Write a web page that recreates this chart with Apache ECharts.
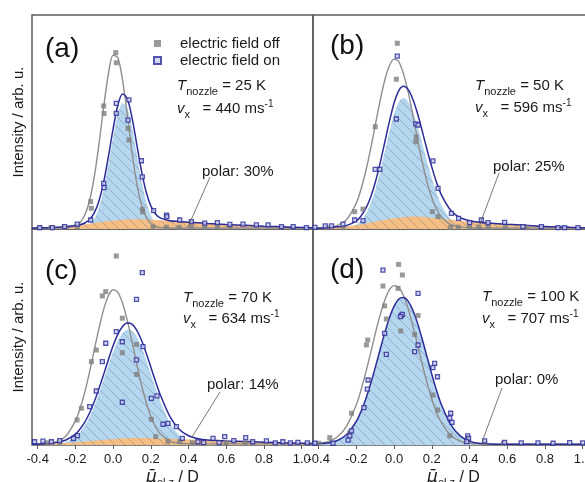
<!DOCTYPE html>
<html>
<head>
<meta charset="utf-8">
<script src="https://cdn.jsdelivr.net/npm/echarts@6/dist/echarts.min.js"></script>
<style>
  html, body { margin: 0; padding: 0; background: #fff; overflow: hidden; }
  #chart { width: 585px; height: 482px; }
</style>
</head>
<body>
<div id="chart"></div>
<script>
// Dipole-moment distributions <mu_el,z>, field off / field on, four nozzle temperatures.
// Intensities are in arbitrary units (fraction of the panel height).

const panelLabels = ['(a)', '(b)', '(c)', '(d)'];
const nozzleTemps = [25, 50, 70, 100];      // K
const beamVelocities = [440, 596, 634, 707]; // m/s
const polarShares = [30, 25, 14, 0];         // %
const muTicks = [-0.4, -0.2, 0.0, 0.2, 0.4, 0.6, 0.8, 1.0];

// abscissa of the fitted curves
const muGrid = [-0.43, -0.4, -0.35, -0.3, -0.25, -0.2, -0.175, -0.15, -0.125, -0.1, -0.075, -0.05, -0.025, 0,
  0.025, 0.05, 0.075, 0.1, 0.125, 0.15, 0.175, 0.2, 0.225, 0.25, 0.3, 0.35, 0.4, 0.45, 0.5, 0.6, 0.7, 0.8, 0.9, 1.0, 1.06];

// (a) 25 K
const offFitA = [0.005,0.005,0.005,0.005,0.006,0.014,0.03,0.065,0.132,0.242,0.395,0.57,0.724,0.812,0.801,0.697,0.535,0.361,0.216,0.115,0.055,0.025,0.012,0.007,0.005,0.005,0.005,0.005,0.005,0.005,0.005,0.005,0.005,0.005,0.005];
const onFitA = [0.004,0.005,0.006,0.008,0.011,0.016,0.020,0.028,0.044,0.075,0.131,0.219,0.338,0.468,0.578,0.631,0.610,0.522,0.398,0.274,0.174,0.108,0.070,0.052,0.039,0.035,0.032,0.029,0.026,0.021,0.017,0.013,0.010,0.007,0.006];
const nonpolarA = [0,0,0,0,0,0.001,0.002,0.007,0.020,0.047,0.100,0.185,0.301,0.429,0.537,0.588,0.566,0.477,0.353,0.229,0.130,0.065,0.028,0.011,0.001,0,0,0,0,0,0,0,0,0,0];
const polarA = [0.004,0.005,0.006,0.008,0.011,0.015,0.018,0.021,0.024,0.028,0.031,0.034,0.037,0.039,0.041,0.043,0.044,0.045,0.045,0.045,0.044,0.043,0.042,0.041,0.038,0.035,0.032,0.029,0.026,0.021,0.017,0.013,0.010,0.007,0.006];
const offPointsA = [[0.014,0.824],[0.017,0.777],[-0.05,0.575],[-0.048,0.54],[0.079,0.47],[0.084,0.416],[-0.119,0.128],[-0.115,0.097],[0.155,0.092],[0.157,0.08],[-0.19,0.011],[0.212,0.008],[0.283,0.008],[0.35,0.008],[0.415,0.01],[0.486,0.008],[0.553,0.01],[0.62,0.008],[-0.26,0.008],[-0.33,0.006],[-0.39,0.006]];
const onPointsA = [[-0.389,0.006],[-0.322,0.006],[-0.257,0.011],[-0.19,0.023],[-0.119,0.042],[-0.05,0.213],[-0.048,0.193],[0.017,0.54],[0.017,0.587],[0.084,0.603],[0.079,0.509],[0.15,0.319],[0.155,0.244],[0.215,0.086],[0.283,0.065],[0.285,0.058],[0.353,0.042],[0.415,0.034],[0.486,0.027],[0.553,0.03],[0.619,0.022],[0.689,0.023],[0.76,0.019],[0.822,0.019],[0.893,0.011],[0.955,0.011],[1.025,0.006]];

// (b) 50 K
const offFitB = [0.005,0.005,0.007,0.017,0.046,0.122,0.187,0.271,0.372,0.484,0.596,0.694,0.763,0.794,0.781,0.725,0.638,0.530,0.416,0.309,0.218,0.146,0.093,0.057,0.020,0.009,0.006,0.005,0.005,0.005,0.005,0.005,0.005,0.005,0.005];
const onFitB = [0.003,0.004,0.006,0.010,0.017,0.038,0.061,0.096,0.147,0.217,0.304,0.403,0.502,0.589,0.647,0.667,0.651,0.605,0.537,0.455,0.369,0.289,0.218,0.161,0.088,0.053,0.039,0.032,0.028,0.022,0.017,0.012,0.009,0.006,0.005];
const nonpolarB = [0,0,0,0.001,0.004,0.020,0.039,0.070,0.117,0.182,0.265,0.360,0.455,0.539,0.594,0.612,0.594,0.547,0.479,0.398,0.314,0.236,0.168,0.113,0.045,0.014,0.004,0.001,0,0,0,0,0,0,0];
const polarB = [0.003,0.004,0.006,0.009,0.013,0.018,0.022,0.026,0.030,0.035,0.039,0.043,0.047,0.050,0.053,0.055,0.057,0.058,0.058,0.057,0.055,0.053,0.050,0.048,0.043,0.039,0.035,0.031,0.028,0.022,0.017,0.012,0.009,0.006,0.005];
const offPointsB = [[0.017,0.868],[0.012,0.70],[-0.1,0.478],[-0.209,0.081],[-0.165,0.093],[0.115,0.408],[0.117,0.43],[0.203,0.081],[0.233,0.058],[-0.36,0.006],[-0.27,0.006],[0.30,0.008],[0.34,0.008],[0.40,0.008],[0.45,0.01],[0.5,0.008],[0.59,0.008],[0.7,0.006]];
const onPointsB = [[0.017,0.808],[0.012,0.514],[-0.1,0.279],[-0.076,0.279],[0.115,0.491],[0.127,0.486],[0.206,0.318],[0.233,0.19],[-0.165,0.039],[-0.209,0.042],[-0.271,0.023],[-0.332,0.015],[-0.365,0.015],[-0.42,0.008],[0.304,0.073],[0.342,0.05],[0.4,0.03],[0.463,0.042],[0.498,0.03],[0.586,0.031],[0.683,0.011],[0.781,0.011],[0.869,0.006],[0.904,0.006],[0.975,0.006]];

// (c) 70 K
const offFitC = [0.005,0.005,0.007,0.016,0.042,0.112,0.169,0.245,0.337,0.439,0.540,0.628,0.691,0.719,0.707,0.657,0.578,0.480,0.377,0.280,0.198,0.132,0.084,0.052,0.019,0.008,0.006,0.005,0.005,0.005,0.005,0.005,0.005,0.005,0.005];
const onFitC = [0.003,0.004,0.006,0.011,0.023,0.050,0.074,0.106,0.148,0.200,0.261,0.327,0.395,0.459,0.512,0.549,0.565,0.560,0.532,0.486,0.427,0.361,0.295,0.233,0.134,0.073,0.043,0.029,0.023,0.019,0.016,0.013,0.010,0.008,0.007];
const nonpolarC = [0,0,0.001,0.004,0.014,0.038,0.060,0.090,0.130,0.180,0.239,0.303,0.369,0.432,0.483,0.519,0.534,0.528,0.500,0.454,0.395,0.330,0.264,0.203,0.105,0.046,0.017,0.005,0.001,0,0,0,0,0,0];
const polarC = [0.003,0.004,0.005,0.007,0.009,0.012,0.014,0.016,0.018,0.020,0.022,0.024,0.026,0.027,0.029,0.030,0.031,0.032,0.032,0.032,0.032,0.031,0.031,0.030,0.029,0.027,0.026,0.024,0.022,0.019,0.016,0.013,0.010,0.008,0.007];
const offPointsC = [[0.017,0.875],[-0.057,0.69],[-0.039,0.71],[0.049,0.587],[0.049,0.427],[0.124,0.466],[0.124,0.327],[-0.089,0.44],[-0.115,0.386],[-0.168,0.17],[-0.191,0.116],[0.203,0.119],[0.226,0.039],[0.291,0.015],[0.353,0.015],[-0.283,0.012],[-0.35,0.01],[0.42,0.01],[0.6,0.01],[0.7,0.01]];
const onPointsC = [[0.155,0.798],[0.124,0.674],[0.017,0.525],[-0.039,0.471],[0.049,0.478],[0.159,0.455],[-0.057,0.386],[0.124,0.394],[-0.089,0.25],[-0.124,0.178],[-0.189,0.043],[0.049,0.198],[0.203,0.216],[0.233,0.227],[0.265,0.096],[0.291,0.1],[0.336,0.085],[0.367,0.031],[0.45,0.015],[0.48,0.011],[0.53,0.031],[0.562,0.011],[0.592,0.039],[0.64,0.02],[0.703,0.034],[0.74,0.015],[0.813,0.019],[0.86,0.01],[0.9,0.015],[0.94,0.01],[0.98,0.012],[1.03,0.01],[-0.416,0.015],[-0.372,0.018],[-0.327,0.015],[-0.283,0.02],[-0.21,0.03]];

// (d) 100 K (no polar part: the fill is the whole field-on fit)
const offFitD = [0.005,0.007,0.015,0.038,0.090,0.187,0.256,0.336,0.424,0.515,0.599,0.669,0.718,0.738,0.729,0.691,0.629,0.549,0.461,0.371,0.287,0.213,0.152,0.105,0.045,0.018,0.008,0.005,0.004,0.004,0.004,0.004,0.004,0.004,0.004];
const onFitD = [0.005,0.006,0.009,0.021,0.050,0.110,0.156,0.213,0.282,0.358,0.439,0.518,0.588,0.643,0.676,0.683,0.665,0.623,0.562,0.487,0.407,0.327,0.253,0.189,0.095,0.042,0.018,0.008,0.005,0.004,0.004,0.004,0.004,0.004,0.004];
const nonpolarD = onFitD;
const polarD = null;
const offPointsD = [[0.024,0.836],[0.044,0.787],[-0.059,0.736],[-0.05,0.644],[-0.041,0.583],[0.021,0.725],[0.127,0.599],[0.035,0.528],[0.109,0.512],[-0.14,0.486],[-0.147,0.463],[0.206,0.231],[0.23,0.162],[-0.226,0.147],[-0.235,0.057],[-0.341,0.034],[0.295,0.043],[0.39,0.017],[-0.4,0.008],[0.48,0.008],[0.58,0.008]];
const onPointsD = [[-0.059,0.81],[0.127,0.702],[0.039,0.6],[0.044,0.605],[0.034,0.594],[-0.05,0.517],[-0.041,0.42],[0.109,0.432],[0.127,0.463],[0.215,0.378],[0.206,0.358],[0.23,0.316],[-0.138,0.301],[-0.142,0.259],[-0.16,0.173],[0.3,0.147],[0.295,0.124],[0.307,0.105],[-0.226,0.065],[-0.235,0.042],[-0.244,0.023],[0.39,0.042],[0.395,0.03],[0.385,0.016],[0.48,0.019],[0.586,0.012],[0.674,0.01],[0.763,0.01],[0.843,0.008],[0.931,0.011],[-0.324,0.008],[-0.42,0.008],[1.0,0.01]];

// ---- styling ----
const FONT = '"Liberation Sans", Arial, Helvetica, sans-serif';
const TEXT = '#1a1a1a';
const FRAME = '#5c5c5c';
const NAVY = '#2c2c98';
const GRAY_PT = '#808080';
const GRAY_LINE = '#8e8e8e';
const BLUE_FILL = '#b4d7ef';
const ORANGE_FILL = '#f4be84';

// light fill with thin "\" hatching
function hatch(bg) {
  const c = document.createElement('canvas');
  c.width = 10; c.height = 10;
  const g = c.getContext('2d');
  g.fillStyle = bg;
  g.fillRect(0, 0, 10, 10);
  g.strokeStyle = 'rgba(95,110,135,0.5)';
  g.lineWidth = 0.8;
  g.beginPath();
  g.moveTo(-2, -2);
  g.lineTo(12, 12);
  g.stroke();
  return { image: c, repeat: 'repeat' };
}

const panels = [
  { offFit: offFitA, onFit: onFitA, nonpolar: nonpolarA, polar: polarA, offPts: offPointsA, onPts: onPointsA },
  { offFit: offFitB, onFit: onFitB, nonpolar: nonpolarB, polar: polarB, offPts: offPointsB, onPts: onPointsB },
  { offFit: offFitC, onFit: onFitC, nonpolar: nonpolarC, polar: polarC, offPts: offPointsC, onPts: onPointsC },
  { offFit: offFitD, onFit: onFitD, nonpolar: nonpolarD, polar: polarD, offPts: offPointsD, onPts: onPointsD }
];

// the right-hand column runs past the page edge
const gridBoxes = [
  { left: 32, top: 15, width: 281, height: 214 },
  { left: 313, top: 15, width: 281, height: 214 },
  { left: 32, top: 229, width: 281, height: 216 },
  { left: 313, top: 229, width: 281, height: 216 }
];

const pair = arr => muGrid.map((m, k) => [m, arr[k]]);

const grids = gridBoxes.map(b => Object.assign({
  show: true, borderColor: FRAME, borderWidth: 1.5, backgroundColor: 'transparent',
  outerBoundsMode: 'none', containLabel: false
}, b));

const xAxes = gridBoxes.map((b, i) => {
  const bottom = i >= 2;
  return {
    type: 'value', gridIndex: i, min: -0.43, max: 1.06,
    axisLine: { show: false },
    splitLine: { show: false },
    axisTick: { show: bottom, length: 4, customValues: muTicks, lineStyle: { color: FRAME, width: 1 } },
    axisLabel: {
      show: bottom, margin: 8, fontSize: 13, color: TEXT, fontFamily: FONT,
      customValues: muTicks, hideOverlap: false,
      formatter: v => v.toFixed(1)
    },
    name: bottom ? '{mu|\u03bc\u0304}{sub|el,z}{n| / D}' : '',
    nameLocation: 'middle',
    nameGap: 20,
    nameTextStyle: {
      color: TEXT, fontFamily: FONT, fontSize: 16,
      rich: {
        mu: { fontSize: 17, fontStyle: 'italic', fontFamily: '"DejaVu Sans", ' + FONT, color: TEXT, verticalAlign: 'middle', lineHeight: 18 },
        sub: { fontSize: 11, fontFamily: FONT, color: TEXT, lineHeight: 11, padding: [11, 0, 0, 0] },
        n: { fontSize: 16, fontFamily: FONT, color: TEXT, verticalAlign: 'middle', lineHeight: 18 }
      }
    }
  };
});

const yAxes = gridBoxes.map((b, i) => ({
  type: 'value', gridIndex: i, min: 0, max: 1,
  axisLine: { show: false }, axisTick: { show: false }, axisLabel: { show: false }, splitLine: { show: false },
  name: (i % 2 === 0) ? 'Intensity / arb. u.' : '',
  nameLocation: 'middle', nameGap: 6,
  nameTextStyle: { color: TEXT, fontFamily: FONT, fontSize: 15 }
}));

const series = [];
panels.forEach((p, i) => {
  const common = { xAxisIndex: i, yAxisIndex: i, animation: false, emphasis: { disabled: true } };
  series.push(Object.assign({
    type: 'line', name: 'nonpolar part', data: pair(p.nonpolar), smooth: 0.3, showSymbol: false, silent: true,
    lineStyle: { width: 0 }, areaStyle: { color: hatch(BLUE_FILL), opacity: 1 }, z: 1
  }, common));
  if (p.polar) {
    series.push(Object.assign({
      type: 'line', name: 'polar part', data: pair(p.polar), smooth: 0.3, showSymbol: false, silent: true,
      lineStyle: { width: 0 }, areaStyle: { color: hatch(ORANGE_FILL), opacity: 1 }, z: 2
    }, common));
  }
  series.push(Object.assign({
    type: 'line', name: 'fit off', data: pair(p.offFit), smooth: 0.3, showSymbol: false, silent: true,
    lineStyle: { color: GRAY_LINE, width: 1.4 }, z: 3
  }, common));
  series.push(Object.assign({
    type: 'line', name: 'fit on', data: pair(p.onFit), smooth: 0.3, showSymbol: false, silent: true,
    lineStyle: { color: NAVY, width: 1.5 }, z: 4
  }, common));
  series.push(Object.assign({
    type: 'scatter', name: 'electric field off', data: p.offPts, symbol: 'rect', symbolSize: 5,
    itemStyle: { color: GRAY_PT }, z: 5
  }, common));
  series.push(Object.assign({
    type: 'scatter', name: 'electric field on', data: p.onPts, symbol: 'rect', symbolSize: 4,
    itemStyle: { color: '#c9cff0', borderColor: NAVY, borderWidth: 1.3 }, z: 6
  }, common));
});

// rich-text styles for the parameter annotations
const annRich = {
  it: { fontSize: 15, fontStyle: 'italic', fontFamily: FONT, fill: TEXT, lineHeight: 16, verticalAlign: 'middle' },
  n: { fontSize: 15, fontFamily: FONT, fill: TEXT, lineHeight: 16, verticalAlign: 'middle' },
  sub: { fontSize: 11, fontFamily: FONT, fill: TEXT, lineHeight: 10, padding: [13, 0, 1, 0] },
  sup: { fontSize: 10, fontFamily: FONT, fill: TEXT, lineHeight: 10, padding: [2, 0, 12, 0] }
};

const panelLabelPos = [[45, 49], [330, 46], [45, 271], [330, 270]];
const paramPos = [[177, 90, 113], [475, 90, 112], [183, 302, 323], [482, 301, 323]];
const polarTextPos = [[202, 172], [493, 167], [207, 385], [495, 380]];
const leaderLines = [[210, 177, 188, 227], [499, 173, 480, 224], [220, 392, 192, 437], [502, 388, 482, 442]];

const graphics = [];
panelLabels.forEach((lab, i) => {
  graphics.push({
    type: 'text', z: 100, silent: true,
    style: { text: lab, x: panelLabelPos[i][0], y: panelLabelPos[i][1], font: '28px ' + FONT, fill: '#111', align: 'left', verticalAlign: 'middle' }
  });
  const [px, y1, y2] = paramPos[i];
  graphics.push({
    type: 'text', z: 100, silent: true,
    style: { text: '{it|T}{sub|nozzle}{n| = ' + nozzleTemps[i] + ' K}', x: px, y: y1 - 12, rich: annRich, verticalAlign: 'top', align: 'left', font: '15px ' + FONT, fill: TEXT }
  });
  graphics.push({
    type: 'text', z: 100, silent: true,
    style: { text: '{it|v}{sub|x}{n|   = ' + beamVelocities[i] + ' ms}{sup|-1}', x: px, y: y2 - 12, rich: annRich, verticalAlign: 'top', align: 'left', font: '15px ' + FONT, fill: TEXT }
  });
  graphics.push({
    type: 'text', z: 100, silent: true,
    style: { text: 'polar: ' + polarShares[i] + '%', x: polarTextPos[i][0], y: polarTextPos[i][1], font: '15px ' + FONT, fill: TEXT, align: 'left', verticalAlign: 'middle' }
  });
  const L = leaderLines[i];
  graphics.push({
    type: 'line', z: 100, silent: true,
    shape: { x1: L[0], y1: L[1], x2: L[2], y2: L[3] },
    style: { stroke: '#555', lineWidth: 0.8 }
  });
});

const chart = echarts.init(document.getElementById('chart'), null, { renderer: 'canvas' });
chart.setOption({
  animation: false,
  backgroundColor: '#fff',
  textStyle: { fontFamily: FONT },
  grid: grids,
  xAxis: xAxes,
  yAxis: yAxes,
  legend: {
    data: [{ name: 'electric field off', icon: 'rect' }, { name: 'electric field on', icon: 'rect' }],
    left: 148, top: 31, orient: 'vertical',
    itemWidth: 7, itemHeight: 7, itemGap: 2,
    selectedMode: false,
    textStyle: { fontSize: 15, color: TEXT, fontFamily: FONT, padding: [0, 0, 0, 14] }
  },
  series: series,
  graphic: graphics
});
</script>
</body>
</html>
